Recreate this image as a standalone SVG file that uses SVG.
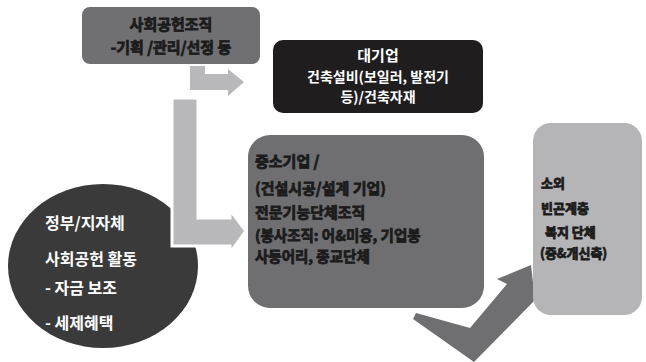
<svg xmlns="http://www.w3.org/2000/svg" width="646" height="362" viewBox="0 0 646 362">
<style>
text{font-family:"Noto Sans CJK KR","Noto Sans",sans-serif}
.dk{fill:#1b1b1b;stroke:#1b1b1b;stroke-width:0.8;font-weight:700;font-size:15px}
.wt{fill:#ffffff;font-weight:700;font-size:15px}
.wb{fill:#ffffff;font-weight:700;font-size:16px}
.arr{fill:#b9b9bb}
</style>
<rect width="646" height="362" fill="#ffffff"/>
<g id="connectors">
<polygon class="arr" points="190,66 205,66 205,74 228,74 228,69 244,82 228,96 228,90 190,90"/>
<polygon fill="#6f6f71" points="416,313 470,328 507,284 497,279 531,265 535,300 474,362 413,319"/>
</g>
<g id="gov">
<ellipse cx="103" cy="266" rx="95" ry="82" fill="#3a3a3a"/>
<text class="wb" x="45" y="229">정부/지자체</text>
<text class="wb" x="45" y="265">사회공헌 활동</text>
<text class="wb" x="45" y="294">- 자금 보조</text>
<text class="wb" x="45" y="329">- 세제혜택</text>
</g>
<g id="bigarrow">
<polygon class="arr" stroke="#ffffff" stroke-width="3" points="172,98 198,98 198,218 230,218 230,210 246,231 230,253 230,246 172,246"/>
</g>
<g id="org">
<rect x="82" y="7" width="178" height="57" rx="8" fill="#707072"/>
<text class="dk" x="171" y="30" text-anchor="middle">사회공헌조직</text>
<text class="dk" x="171" y="53" text-anchor="middle">-기획 /관리/선정 등</text>
</g>
<g id="large">
<rect x="273" y="40" width="210" height="73" rx="10" fill="#1f1d1e"/>
<text class="wt" x="378" y="61" text-anchor="middle">대기업</text>
<text class="wt" x="378" y="82" text-anchor="middle" style="font-size:14px">건축설비(보일러, 발전기</text>
<text class="wt" x="378" y="102" text-anchor="middle" style="font-size:14px">등)/건축자재</text>
</g>
<g id="sme">
<rect x="248" y="135" width="236" height="173" rx="22" fill="#6f6f71"/>
<text class="dk" x="255" y="167">중소기업 /</text>
<text class="dk" x="255" y="194">(건설시공/설계 기업)</text>
<text class="dk" x="255" y="218">전문기능단체조직</text>
<text class="dk" x="255" y="241" style="font-size:14.5px">(봉사조직: 어&amp;미용, 기업봉</text>
<text class="dk" x="255" y="262" style="font-size:14.5px">사동어리, 종교단체</text>
</g>
<g id="welfare">
<rect x="533" y="123" width="109" height="192" rx="18" fill="#b5b5b7"/>
<text class="dk" x="541" y="188" style="font-size:13px">소외</text>
<text class="dk" x="541" y="213" style="font-size:13px">빈곤계층</text>
<text class="dk" x="545" y="237" style="font-size:13px">복지 단체</text>
<text class="dk" x="540" y="258" style="font-size:13px">(증&amp;개신축)</text>
</g>
</svg>
